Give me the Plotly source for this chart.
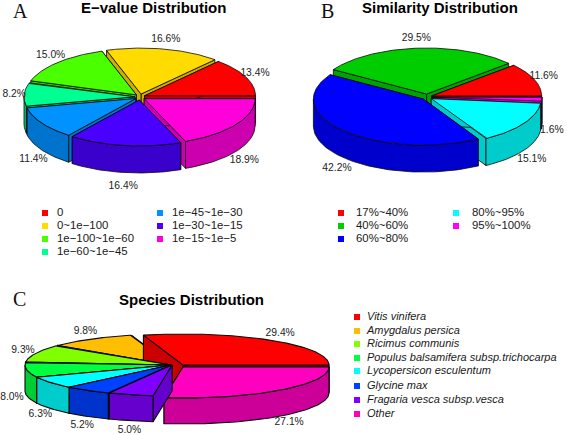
import numpy as np
import plotly.graph_objects as go

# ---- data ----
evalue_labels = ["0", "0~1e\u2212100", "1e\u2212100~1e\u221260", "1e\u221260~1e\u221245",
                 "1e\u221245~1e\u221230", "1e\u221230~1e\u221215", "1e\u221215~1e\u22125"]
evalue_values = [13.4, 16.6, 15.0, 8.2, 11.4, 16.4, 18.9]

similarity_labels = ["17%~40%", "40%~60%", "60%~80%", "80%~95%", "95%~100%"]
similarity_values = [11.6, 29.5, 42.2, 15.1, 1.6]

species_labels = ["Vitis vinifera", "Amygdalus persica", "Ricimus communis",
                  "Populus balsamifera subsp.trichocarpa", "Lycopersicon esculentum",
                  "Glycine max", "Fragaria vesca subsp.vesca", "Other"]
species_values = [29.4, 9.8, 9.3, 8.0, 6.3, 5.2, 5.0, 27.1]

# ---- style ----
evalue_colors = ["#FF0000", "#FFDB00", "#49FF00", "#00FF92", "#0092FF", "#4900FF", "#FF00DB"]
similarity_colors = ["#FF0000", "#00CD00", "#0000FF", "#00FFFF", "#FF00FF"]
species_colors = ["#FF0000", "#FFBF00", "#80FF00", "#00FF40", "#00FFFF", "#0040FF", "#8000FF", "#FF00BF"]

FONT = "Liberation Sans"
fig = go.Figure()


def shade(hex_color, f=0.8):
    r, g, b = (int(hex_color[i:i + 2], 16) for i in (1, 3, 5))
    return f"rgb({int(r * f)},{int(g * f)},{int(b * f)})"


def poly(xs, ys, color, lw):
    fig.add_trace(go.Scatter(x=xs, y=ys, mode="lines", fill="toself", fillcolor=color,
                             line=dict(color="#0a0a0a", width=lw), hoverinfo="skip", showlegend=False))


def pie3d(values, colors, cx, cy, rx, ry, depth, shifts, gx=15, gy=14, lab_extra=None, size=10.3,
          lw=0.8, lab_drop=3):
    edges = np.concatenate([[0], np.cumsum(values)]) / sum(values) * 360
    mids = (edges[:-1] + edges[1:]) / 2
    for i in sorted(range(len(values)), key=lambda k: -np.sin(np.radians(mids[k]))):
        a0, a1 = edges[i], edges[i + 1]
        dx, dy = shifts[i]
        ox, oy = cx + dx, cy + dy
        side = shade(colors[i])
        for a in (a0, a1):
            rim_x = ox + rx * np.cos(np.radians(a))
            rim_y = oy - ry * np.sin(np.radians(a))
            poly([ox, rim_x, rim_x, ox, ox], [oy, rim_y, rim_y + depth, oy + depth, oy], side, lw)
        lo, hi = max(a0, 180), min(a1, 360)
        if hi > lo:
            t = np.radians(np.linspace(lo, hi, 80))
            wx = ox + rx * np.cos(t)
            wy = oy - ry * np.sin(t)
            poly(np.r_[wx, wx[::-1], wx[0]], np.r_[wy, wy[::-1] + depth, wy[0]], side, lw)
        t = np.radians(np.linspace(a0, a1, 100))
        poly(np.r_[ox, ox + rx * np.cos(t), ox], np.r_[oy, oy - ry * np.sin(t), oy], colors[i], lw)
    # percentage labels
    c, s = np.cos(np.radians(mids)), np.sin(np.radians(mids))
    extra = lab_extra if lab_extra is not None else [0] * len(values)
    lx = cx + (rx + gx) * c + np.array(extra)
    ly = cy - (ry + gy) * s + np.where(s < -0.05, depth + lab_drop, 1)
    fig.add_trace(go.Scatter(x=lx, y=ly, mode="text", text=[f"{v:.1f}%" for v in values],
                             textposition="middle center",
                             textfont=dict(family=FONT, size=size, color="#222222"),
                             hoverinfo="skip", showlegend=False))


def radial(values, e, k):
    edges = np.concatenate([[0], np.cumsum(values)]) / sum(values) * 2 * np.pi
    m = (edges[:-1] + edges[1:]) / 2
    return list(zip(e * np.cos(m), -e * k * np.sin(m)))


def legend(labels, colors, mx, tx, ys, size=11.4, italic=False):
    fig.add_trace(go.Scatter(x=[mx] * len(labels), y=ys, mode="markers",
                             marker=dict(symbol="square", size=6, color=colors, line=dict(width=0)),
                             hoverinfo="skip", showlegend=False))
    fig.add_trace(go.Scatter(x=[tx] * len(labels), y=ys, mode="text", text=labels,
                             textposition="middle right",
                             textfont=dict(family=FONT, size=size, color="#1a1a1a",
                                           style="italic" if italic else "normal"),
                             hoverinfo="skip", showlegend=False))


# A
pie3d(evalue_values, evalue_colors, 140, 97, 111, 46, 27, radial(evalue_values, 5, 0.6))
legend(evalue_labels[:4], evalue_colors[:4], 45, 57, [213, 226, 239, 252])
legend(evalue_labels[4:], evalue_colors[4:], 160, 172, [213, 226, 239])

# B
pie3d(similarity_values, similarity_colors, 427, 97, 110, 46, 27, radial(similarity_values, 5, 0.6))
legend(similarity_labels[:3], similarity_colors[:3], 341, 356, [213, 226, 239])
legend(similarity_labels[3:], similarity_colors[3:], 456, 472, [213, 226])

# C
species_shift = [(12, 0), (0, 0), (0, 0), (0, 0), (0, 0), (0, 0), (1, 0), (12, 2)]
pie3d(species_values, species_colors, 171, 365, 146, 31, 26, species_shift, gx=15, gy=10, lw=1.1,
      lab_extra=[12, 3, 1, 0, 2, 3, 4, 12], lab_drop=0.5)
legend(species_labels, species_colors, 357, 367,
       [317, 331, 344, 358, 371, 386, 400, 414], size=11.0, italic=True)

# titles and panel letters
for txt, x, y in [("E\u2212value Distribution", 153, 7), ("Similarity Distribution", 440, 7),
                  ("Species Distribution", 191, 299)]:
    fig.add_annotation(x=x, y=y, xref="x", yref="y", text=f"<b>{txt}</b>", showarrow=False,
                       font=dict(family=FONT, size=15, color="#000000"))
for txt, x, y in [("A", 20, 11), ("B", 327, 11), ("C", 19, 299)]:
    fig.add_annotation(x=x, y=y, xref="x", yref="y", text=txt, showarrow=False,
                       font=dict(family="Liberation Serif", size=20, color="#111111"))

fig.update_layout(width=567, height=435, margin=dict(l=0, r=0, t=0, b=0),
                  paper_bgcolor="white", plot_bgcolor="white", showlegend=False,
                  xaxis=dict(range=[0, 567], visible=False, fixedrange=True),
                  yaxis=dict(range=[435, 0], visible=False, fixedrange=True))
fig.write_html("out.html", config={"displayModeBar": False},
               post_script="document.body.style.margin='0';document.body.style.overflow='hidden';")
